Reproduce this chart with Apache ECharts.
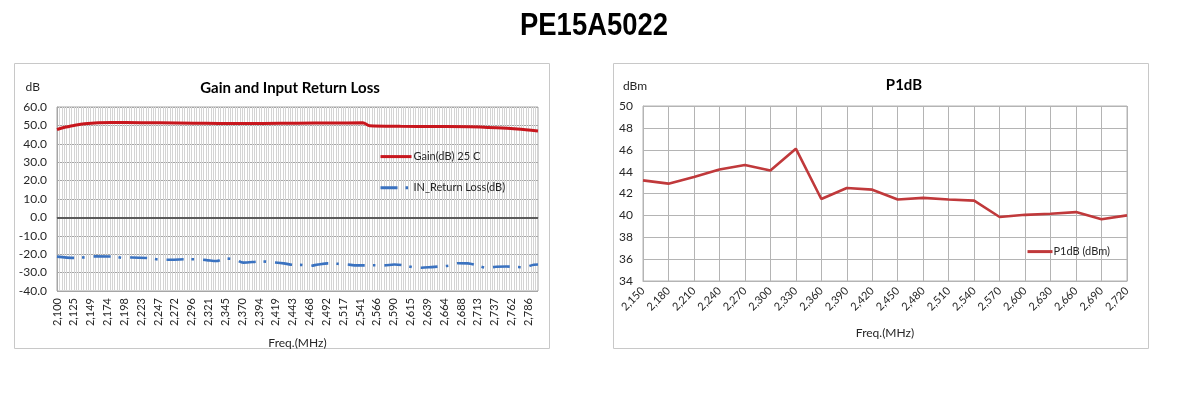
<!DOCTYPE html>
<html>
<head>
<meta charset="utf-8">
<script src="https://cdn.jsdelivr.net/npm/echarts@6/dist/echarts.min.js"></script>
<style>
  html, body { margin: 0; padding: 0; background: #fff; }
  #chart { width: 1189px; height: 398px; }
</style>
</head>
<body>
<div id="chart"></div>
<script>
// Gain (dB) 25 C as [MHz, dB]
const gainFreq = [2100, 2110, 2125, 2140, 2160, 2180, 2200, 2250, 2300, 2350, 2400, 2450, 2500, 2545, 2555, 2600, 2650, 2700, 2740, 2770, 2800];
const gainDb   = [47.8, 48.9, 50.0, 50.9, 51.5, 51.6, 51.6, 51.4, 51.2, 51.0, 51.1, 51.2, 51.3, 51.4, 49.8, 49.5, 49.4, 49.3, 48.7, 48.0, 47.0];

// IN_Return Loss (dB)
const rlFreq = [2100, 2126, 2141, 2155, 2182, 2196, 2209, 2235, 2250, 2265, 2291, 2305, 2318, 2332, 2345, 2359, 2371, 2398, 2413, 2430, 2447, 2454, 2467, 2480, 2494, 2508, 2522, 2537, 2563, 2576, 2591, 2605, 2617, 2630, 2645, 2671, 2684, 2698, 2712, 2726, 2739, 2754, 2780, 2794, 2800];
const rlDb   = [-21.3, -22.0, -21.7, -21.2, -21.3, -22.0, -21.8, -22.2, -23.0, -23.0, -22.7, -22.8, -23.2, -23.7, -22.4, -22.8, -24.6, -23.9, -24.4, -25.0, -25.9, -25.8, -26.4, -25.6, -25.0, -25.2, -25.6, -26.1, -26.0, -26.1, -25.6, -26.0, -27.0, -27.4, -27.0, -26.2, -24.9, -25.0, -26.2, -27.4, -26.8, -26.7, -27.1, -25.7, -25.6];

// P1dB (dBm)
const p1Freq = ['2,150', '2,180', '2,210', '2,240', '2,270', '2,300', '2,330', '2,360', '2,390', '2,420', '2,450', '2,480', '2,510', '2,540', '2,570', '2,600', '2,630', '2,660', '2,690', '2,720'];
const p1Dbm  = [43.2, 42.9, 43.5, 44.2, 44.6, 44.1, 46.1, 41.5, 42.5, 42.35, 41.45, 41.6, 41.45, 41.35, 39.85, 40.05, 40.15, 40.3, 39.65, 40.0];

const FONT = 'Lato, "Noto Sans", sans-serif';
const TXT = '#262626';

const chart = echarts.init(document.getElementById('chart'));

const pair = (xs, ys) => xs.map((x, i) => [x, ys[i]]);

const option = {
    animation: false,
    textStyle: { fontFamily: FONT },
    title: [
        {
            text: 'Gain and Input Return Loss',
            left: 285,
            textAlign: 'center',
            top: 76,
            textStyle: { fontFamily: FONT, fontSize: 15, fontWeight: 'bold', color: '#000' }
        },
        {
            text: 'P1dB',
            left: 899,
            textAlign: 'center',
            top: 73,
            textStyle: { fontFamily: FONT, fontSize: 15, fontWeight: 'bold', color: '#000' }
        }
    ],
    graphic: [
        // main heading, a little condensed like the original
        {
            type: 'text', x: 594, y: 11, scaleX: 0.885, silent: true,
            style: { text: 'PE15A5022', align: 'center', fill: '#000', font: 'bold 31px "Liberation Sans", Arial, sans-serif' }
        },
        // chart frames
        { type: 'rect', shape: { x: 14.5, y: 63.5, width: 535, height: 285 }, style: { fill: 'none', stroke: '#c8c8c8', lineWidth: 1 }, silent: true },
        { type: 'rect', shape: { x: 613.5, y: 63.5, width: 535, height: 285 }, style: { fill: 'none', stroke: '#c8c8c8', lineWidth: 1 }, silent: true }
    ],
    legend: [
        {
            data: ['Gain(dB) 25 C', 'IN_Return Loss(dB)'],
            orient: 'vertical',
            left: 379,
            top: 150,
            padding: 0,
            itemWidth: 31,
            itemHeight: 14,
            itemGap: 17,
            itemStyle: { opacity: 0 },
            lineStyle: { width: 3 },
            textStyle: { fontFamily: FONT, fontSize: 11, color: TXT, padding: [0, 0, 0, -3] }
        },
        {
            data: ['P1dB (dBm)'],
            left: 1026,
            top: 246,
            padding: 0,
            itemWidth: 25,
            itemHeight: 14,
            itemStyle: { opacity: 0 },
            lineStyle: { width: 3 },
            textStyle: { fontFamily: FONT, fontSize: 11, color: TXT, padding: [0, 0, 0, -4] }
        }
    ],
    grid: [
        { left: 57, top: 107, width: 481, height: 184, show: true, borderColor: '#a6a6a6', borderWidth: 1, backgroundColor: 'transparent' },
        { left: 643, top: 106, width: 484, height: 175, show: true, borderColor: '#b4b4b4', borderWidth: 1, backgroundColor: 'transparent' }
    ],
    xAxis: [
        {
            gridIndex: 0,
            type: 'value',
            min: 2100,
            max: 2800,
            interval: 3.5,
            name: 'Freq.(MHz)',
            nameLocation: 'middle',
            nameGap: 46,
            nameTextStyle: { fontFamily: FONT, fontSize: 12, color: TXT },
            axisLine: { show: true, lineStyle: { color: '#a6a6a6' } },
            axisTick: { show: false },
            axisLabel: {
                rotate: 90,
                margin: 7,
                fontFamily: FONT,
                fontSize: 11,
                color: TXT,
                formatter: function (v) {
                    const idx = Math.round((v - 2100) / 3.5);
                    if (idx % 7 !== 0) return '';
                    return Math.round(v).toLocaleString('en-US');
                }
            },
            splitLine: { show: true, lineStyle: { color: '#d4d4d4', width: 1 } }
        },
        {
            gridIndex: 1,
            type: 'category',
            data: p1Freq,
            boundaryGap: false,
            name: 'Freq.(MHz)',
            nameLocation: 'middle',
            nameGap: 46,
            nameTextStyle: { fontFamily: FONT, fontSize: 12, color: TXT },
            axisLine: { show: true, lineStyle: { color: '#b4b4b4' } },
            axisTick: { show: false },
            axisLabel: { rotate: 45, margin: 8, interval: 0, fontFamily: FONT, fontSize: 11, color: TXT },
            splitLine: { show: true, lineStyle: { color: '#b4b4b4', width: 1 } }
        }
    ],
    yAxis: [
        {
            gridIndex: 0,
            type: 'value',
            min: -40,
            max: 60,
            interval: 10,
            name: 'dB',
            nameLocation: 'end',
            nameGap: 14,
            nameTextStyle: { fontFamily: FONT, fontSize: 12, color: TXT, align: 'right', padding: [0, 17, 0, 0] },
            axisLine: { show: true, lineStyle: { color: '#a6a6a6' } },
            axisTick: { show: false },
            axisLabel: { margin: 10, fontFamily: FONT, fontSize: 12, color: TXT, formatter: v => v.toFixed(1) },
            splitLine: { show: true, lineStyle: { color: '#a6a6a6', width: 1 } }
        },
        {
            gridIndex: 1,
            type: 'value',
            min: 34,
            max: 50,
            interval: 2,
            name: 'dBm',
            nameLocation: 'end',
            nameGap: 14,
            nameTextStyle: { fontFamily: FONT, fontSize: 12, color: TXT, align: 'center', padding: [0, 16, 0, 0] },
            axisLine: { show: true, lineStyle: { color: '#b4b4b4' } },
            axisTick: { show: false },
            axisLabel: { margin: 10, fontFamily: FONT, fontSize: 12, color: TXT },
            splitLine: { show: true, lineStyle: { color: '#b4b4b4', width: 1 } }
        }
    ],
    series: [
        {
            name: 'Gain(dB) 25 C',
            type: 'line',
            xAxisIndex: 0,
            yAxisIndex: 0,
            data: pair(gainFreq, gainDb),
            symbol: 'none',
            smooth: 0.3,
            itemStyle: { color: '#c8161d' },
            lineStyle: { color: '#c8161d', width: 3 },
            markLine: {
                silent: true,
                symbol: 'none',
                label: { show: false },
                lineStyle: { color: '#5a5a5a', width: 2, type: 'solid' },
                data: [{ yAxis: 0 }]
            },
            z: 3
        },
        {
            name: 'IN_Return Loss(dB)',
            type: 'line',
            xAxisIndex: 0,
            yAxisIndex: 0,
            data: pair(rlFreq, rlDb),
            symbol: 'none',
            smooth: 0.3,
            itemStyle: { color: '#3a72c0' },
            lineStyle: { color: '#3a72c0', width: 2.6, type: [17, 8, 2.6, 9], cap: 'butt' },
            z: 3
        },
        {
            name: 'P1dB (dBm)',
            type: 'line',
            xAxisIndex: 1,
            yAxisIndex: 1,
            data: p1Dbm,
            symbol: 'none',
            itemStyle: { color: '#c0393b' },
            lineStyle: { color: '#c0393b', width: 2.6 },
            z: 3
        }
    ]
};

// legend rows sit a little further apart in the original
option.legend[0].top = 151;
option.legend[0].itemGap = 20;

chart.setOption(option);
</script>
</body>
</html>
